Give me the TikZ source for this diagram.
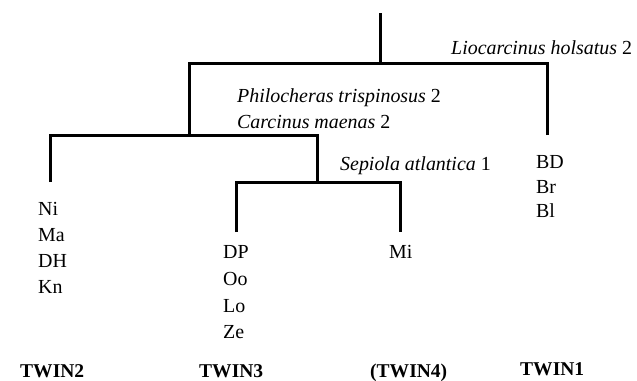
\documentclass[tikz,border=0pt]{standalone}
\usepackage{fontspec}
\setmainfont{Liberation Serif}
\begin{document}
\begin{tikzpicture}[x=1bp,y=-1bp,
  branch/.style={line width=3bp,line cap=butt,line join=miter},
  lbl/.style={anchor=base west,inner sep=0pt,font=\fontsize{20}{20}\selectfont},
  twin/.style={anchor=base west,inner sep=0pt,font=\fontsize{19.6}{20}\selectfont\bfseries}]
\useasboundingbox (0,0) rectangle (637,380);
% tree coordinates
\coordinate (root) at (380,13);
\coordinate (n1) at (380,63);
\coordinate (n1l) at (189,63);
\coordinate (n1r) at (547,63);
\coordinate (e1) at (547,135);
\coordinate (n2) at (189,135);
\coordinate (n2l) at (50,135);
\coordinate (n2r) at (317,135);
\coordinate (e2) at (50,182);
\coordinate (n3) at (317,182);
\coordinate (n3l) at (236,182);
\coordinate (n3r) at (400,182);
\coordinate (e3) at (236,232);
\coordinate (e4) at (400,232);
% branches
\draw[branch] (root) -- (n1);
\draw[branch] (e1) -- (n1r) -- (n1l) -- (n2);
\draw[branch] (e2) -- (n2l) -- (n2r) -- (n3);
\draw[branch] (e3) -- (n3l) -- (n3r) -- (e4);
% split labels
\node[lbl] (lio) at (451,54) {\itshape Liocarcinus holsatus\/ \upshape 2};
\node[lbl] (phi) at (237,102) {\itshape Philocheras trispinosus\/ \upshape 2};
\node[lbl] (car) at (237,128) {\itshape Carcinus maenas\/ \upshape 2};
\node[lbl] (sep) at (340,170) {\itshape Sepiola atlantica\/ \upshape 1};
% leaves
\node[lbl] (bd) at (536,168) {BD};
\node[lbl] (br) at (536,193) {Br};
\node[lbl] (bl) at (536,217) {Bl};
\node[lbl] (ni) at (38,215) {Ni};
\node[lbl] (ma) at (38,241) {Ma};
\node[lbl] (dh) at (38,267) {DH};
\node[lbl] (kn) at (38,293) {Kn};
\node[lbl] (dp) at (223,258) {DP};
\node[lbl] (oo) at (223,285) {Oo};
\node[lbl] (lo) at (223,312) {Lo};
\node[lbl] (ze) at (223,338) {Ze};
\node[lbl] (mi) at (389,258) {Mi};
% group names
\node[twin] (t2) at (20,377) {TWIN2};
\node[twin] (t3) at (199,377) {TWIN3};
\node[twin] (t4) at (370,377) {(TWIN4)};
\node[twin] (t1) at (520,375) {TWIN1};
\end{tikzpicture}
\end{document}
